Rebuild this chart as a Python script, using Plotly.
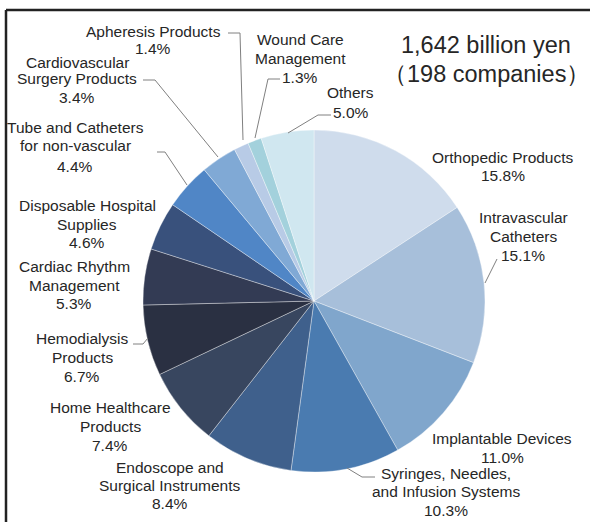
import plotly.graph_objects as go

W, H = 590, 522

categories = [
    "Orthopedic Products", "Intravascular Catheters", "Implantable Devices",
    "Syringes, Needles, and Infusion Systems", "Endoscope and Surgical Instruments",
    "Home Healthcare Products", "Hemodialysis Products", "Cardiac Rhythm Management",
    "Disposable Hospital Supplies", "Tube and Catheters for non-vascular",
    "Cardiovascular Surgery Products", "Apheresis Products", "Wound Care Management",
    "Others",
]
shares = [15.8, 15.1, 11.0, 10.3, 8.4, 7.4, 6.7, 5.3, 4.6, 4.4, 3.4, 1.4, 1.3, 5.0]
display_lines = [
    ["Orthopedic Products"], ["Intravascular", "Catheters"], ["Implantable Devices"],
    ["Syringes, Needles,", "and Infusion Systems"], ["Endoscope and", "Surgical Instruments"],
    ["Home Healthcare", "Products"], ["Hemodialysis", "Products"], ["Cardiac Rhythm", "Management"],
    ["Disposable Hospital", "Supplies"], ["Tube and Catheters", "for non-vascular"],
    ["Cardiovascular", "Surgery Products"], ["Apheresis Products"], ["Wound Care", "Management"],
    ["Others"],
]
colors = [
    "#cfdcec", "#a7bfda", "#80a6cc", "#4a7bb0", "#3f608c", "#38465f", "#2a3042",
    "#333b54", "#39517c", "#5086c6", "#80a9d5", "#b8cbe6", "#a3d1dc", "#d0e7f0",
]
title_lines = ["1,642 billion yen", "（198 companies）"]

# label layout (pixels): x centre and y of each text line - layout only
label_x = [503, 523, 502, 446, 170, 110, 82, 74, 87, 75, 77, 153, 300, 351]
label_y = [
    [157, 176], [218, 236, 255], [438, 457], [473, 491, 510], [467, 485, 503],
    [407, 426, 445], [338, 357, 376], [266, 285, 303], [205, 224, 242],
    [128, 146, 166], [62, 79, 97], [31, 48], [40, 59, 77], [93, 112],
]
# leader lines (pixels) - layout only
leaders = [
    [(497, 259), (485, 283)],
    [(375, 477), (362, 477), (347, 468)],
    [(133, 344), (143, 344), (148, 338)],
    [(157, 152), (165, 152), (187, 185)],
    [(143, 80), (155, 80), (218, 157)],
    [(228, 33), (240, 33), (243, 140)],
    [(280, 79), (268, 79), (255, 138)],
    [(331, 115), (318, 115), (288, 133)],
]


def px(x):
    return x / W


def py(y):
    return 1 - y / H


cx, cy, r = 314, 301, 171

fig = go.Figure(go.Pie(
    labels=categories,
    values=shares,
    sort=False,
    direction="clockwise",
    rotation=0,
    textinfo="none",
    marker=dict(colors=colors, line=dict(color="rgba(255,255,255,0.6)", width=0.6)),
    domain=dict(x=[px(cx - r), px(cx + r)], y=[py(cy + r), py(cy - r)]),
    showlegend=False,
))

FAMILY = "Liberation Sans, Arial, sans-serif"
font = dict(family=FAMILY, size=15.5, color="#262626")
for i, (lines, v) in enumerate(zip(display_lines, shares)):
    texts = lines + [f"{v:.1f}%"]
    for t, y in zip(texts, label_y[i]):
        fig.add_annotation(
            x=px(label_x[i]), y=py(y), xref="paper", yref="paper",
            text=t, showarrow=False, xanchor="center", yanchor="middle", font=font,
        )

for pts in leaders:
    for (x0, y0), (x1, y1) in zip(pts[:-1], pts[1:]):
        fig.add_shape(type="line", xref="paper", yref="paper",
                      x0=px(x0), y0=py(y0), x1=px(x1), y1=py(y1),
                      line=dict(color="#808080", width=1))

for t, y in zip(title_lines, [45, 74]):
    fig.add_annotation(
        x=px(486), y=py(y), xref="paper", yref="paper",
        text=t, showarrow=False, xanchor="center", yanchor="middle",
        font=dict(family=FAMILY, size=23.5, color="#262626"),
    )

# frame (top and left edges)
fig.add_shape(type="line", xref="paper", yref="paper", x0=px(6), y0=py(10), x1=px(590), y1=py(10),
              line=dict(color="#222222", width=2.5))
fig.add_shape(type="line", xref="paper", yref="paper", x0=px(6), y0=py(10), x1=px(6), y1=py(522),
              line=dict(color="#222222", width=2.5))

fig.update_layout(
    width=W, height=H, margin=dict(l=0, r=0, t=0, b=0),
    paper_bgcolor="white", plot_bgcolor="white",
)

fig.write_html(
    "out.html",
    config={"displayModeBar": False},
    post_script="document.body.style.margin='0';document.body.style.overflow='hidden';",
)
